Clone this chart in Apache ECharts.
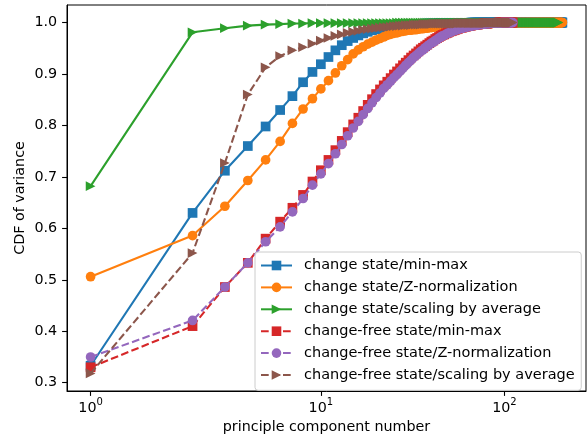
<!DOCTYPE html>
<html><head><meta charset="utf-8">
<script src="https://cdn.jsdelivr.net/npm/echarts@6/dist/echarts.min.js"></script>
<style>html,body{margin:0;padding:0;background:#fff}#c{width:587px;height:439px}</style>
</head><body><div id="c"></div>
<script>
// ---- data ----
const seriesNames = [
  'change state/min-max',
  'change state/Z-normalization',
  'change state/scaling by average',
  'change-free state/min-max',
  'change-free state/Z-normalization',
  'change-free state/scaling by average'
];
// values for principal components 1..N
const changeMinMax = [
0.333,0.630,0.712,0.760,0.798,0.830,0.857,0.884,0.904,0.919,
0.933,0.946,0.956,0.964,0.970,0.975,0.979,0.982,0.985,0.987,
0.989,0.990,0.991,0.992,0.993,0.994,0.994,0.995,0.995,0.996,
0.996,0.996,0.997,0.997,0.997,0.997,0.998,0.998,0.998,0.998,
0.998,0.998,0.998,0.999,0.999,0.999,0.999,0.999,0.999,0.999,
0.999,0.999,0.999,0.999,0.999,0.999,0.999,0.999,0.999,0.999,
0.999,0.999,0.999,0.999,0.999,1,1,1,1,1,
1,1,1,1,1,1,1,1,1,1, 1,1,1,1,1,1,1,1,1,1,
1,1,1,1,1,1,1,1,1,1, 1,1,1,1,1,1,1,1,1,1,
1,1,1,1,1,1,1,1,1,1, 1,1,1,1,1,1,1,1,1,1,
1,1,1,1,1,1,1,1,1,1, 1,1,1,1,1,1,1,1,1,1,
1,1,1,1,1,1,1,1,1,1, 1,1,1,1,1,1,1,1,1,1,
1,1,1,1,1,1,1,1,1,1, 1,1,1,1,1,1,1,1,1,1,
1,1,1,1,1,1,1,1,1,1, 1,1,1,1,1,1,1
];
const changeZNorm = [
0.506,0.586,0.643,0.693,0.733,0.769,0.804,0.832,0.852,0.871,
0.887,0.902,0.916,0.928,0.939,0.947,0.953,0.958,0.962,0.966,
0.969,0.972,0.975,0.977,0.979,0.980,0.982,0.983,0.984,0.985,
0.985,0.986,0.986,0.987,0.988,0.988,0.989,0.989,0.990,0.990,
0.991,0.991,0.991,0.992,0.992,0.992,0.992,0.993,0.993,0.993,
0.993,0.994,0.994,0.994,0.994,0.995,0.995,0.995,0.995,0.995,
0.996,0.996,0.996,0.996,0.996,0.996,0.997,0.997,0.997,0.997,
0.997,0.997,0.998,0.998,0.998,0.998,0.998,0.998,0.998,0.998,
0.998,0.998,0.998,0.998,0.998,0.999,0.999,0.999,0.999,0.999,
0.999,0.999,0.999,0.999,0.999,0.999,0.999,0.999,0.999,0.999,
0.999,0.999,0.999,0.999,0.999,0.999,0.999,0.999,0.999,0.999,
1,1,1,1,1,1,1,1,1,1, 1,1,1,1,1,1,1,1,1,1,
1,1,1,1,1,1,1,1,1,1, 1,1,1,1,1,1,1,1,1,1,
1,1,1,1,1,1,1,1,1,1, 1,1,1,1,1,1,1,1,1,1,
1,1,1,1,1,1,1,1,1,1, 1,1,1,1,1,1,1,1,1,1,
1,1,1,1,1,1,1,1,1,1, 1,1,1,1,1,1,1
];
const changeScaleAvg = [
0.682,0.981,0.989,0.994,0.996,0.997,0.998,0.998,0.999,0.999,
0.999,0.999,0.999,0.999,0.999,0.999,0.999,0.999,0.999,0.999,
0.999,0.999,0.999,0.999,0.999,1,1,1,1,1,
1,1,1,1,1,1,1,1,1,1, 1,1,1,1,1,1,1,1,1,1,
1,1,1,1,1,1,1,1,1,1, 1,1,1,1,1,1,1,1,1,1,
1,1,1,1,1,1,1,1,1,1, 1,1,1,1,1,1,1,1,1,1,
1,1,1,1,1,1,1,1,1,1, 1,1,1,1,1,1,1,1,1,1,
1,1,1,1,1,1,1,1,1,1, 1,1,1,1,1,1,1,1,1,1,
1,1,1,1,1,1,1,1,1,1, 1,1,1,1,1,1,1,1,1,1,
1,1,1,1,1,1,1,1,1,1, 1,1,1,1,1,1,1,1,1,1,
1,1,1,1,1,1,1,1,1,1, 1,1,1,1,1,1,1,1,1,1,
1,1,1,1,1,1,1
];
const freeMinMax = [
0.330,0.410,0.486,0.533,0.580,0.613,0.640,0.665,0.691,0.713,
0.733,0.752,0.770,0.787,0.802,0.815,0.828,0.840,0.851,0.861,
0.870,0.878,0.885,0.892,0.899,0.905,0.911,0.917,0.922,0.927,
0.932,0.936,0.940,0.944,0.948,0.951,0.954,0.957,0.960,0.963,
0.965,0.968,0.970,0.972,0.974,0.976,0.977,0.979,0.980,0.982,
0.983,0.984,0.985,0.986,0.987,0.988,0.989,0.990,0.990,0.991,
0.992,0.992,0.993,0.993,0.994,0.994,0.995,0.995,0.995,0.996,
0.996,0.996,0.997,0.997,0.997,0.997,0.998,0.998,0.998,0.998,
0.998,0.999,0.999,0.999,0.999,0.999,0.999,0.999,0.999,0.999,
0.999,0.999,1,1,1,1,1,1,1,1,
1,1,1,1,1,1,1,1,1,1,
1
];
const freeZNorm = [
0.350,0.421,0.486,0.533,0.574,0.603,0.632,0.658,0.684,0.706,
0.726,0.745,0.763,0.780,0.795,0.808,0.821,0.833,0.844,0.854,
0.863,0.872,0.879,0.886,0.893,0.899,0.905,0.911,0.917,0.922,
0.927,0.932,0.936,0.940,0.944,0.947,0.951,0.954,0.957,0.960,
0.962,0.965,0.967,0.970,0.972,0.974,0.975,0.977,0.979,0.980,
0.982,0.983,0.984,0.985,0.986,0.987,0.988,0.989,0.989,0.990,
0.991,0.991,0.992,0.992,0.993,0.993,0.994,0.994,0.995,0.995,
0.995,0.996,0.996,0.996,0.997,0.997,0.997,0.997,0.998,0.998,
0.998,0.998,0.998,0.999,0.999,0.999,0.999,0.999,0.999,0.999,
0.999,0.999,0.999,0.999,0.999,1,1,1,1,1,
1,1,1,1,1,1,1,1,1,1,
1
];
const freeScaleAvg = [
0.318,0.552,0.727,0.860,0.913,0.935,0.946,0.952,0.959,0.965,
0.970,0.974,0.977,0.980,0.982,0.984,0.986,0.987,0.988,0.989,
0.990,0.991,0.991,0.992,0.993,0.993,0.994,0.994,0.995,0.995,
0.995,0.996,0.996,0.996,0.996,0.997,0.997,0.997,0.997,0.997,
0.998,0.998,0.998,0.998,0.998,0.998,0.998,0.998,0.998,0.998,
0.998,0.998,0.998,0.998,0.998,0.999,0.999,0.999,0.999,0.999,
0.999,0.999,0.999,0.999,0.999,0.999,0.999,0.999,0.999,0.999,
0.999,0.999,0.999,0.999,0.999,0.999,0.999,0.999,0.999,0.999,
1,1,1,1,1,1,1,1,1,1,
1,1,1,1,1,1,1,1,1,1,
1,1,1,1,1,1,1,1,1,1,
1
];
const xTickValues = [1, 10, 100];
const xTickBases = ['10', '10', '10'];
const xTickExponents = ['0', '1', '2'];
const yTickValues = [0.3, 0.4, 0.5, 0.6, 0.7, 0.8, 0.9, 1.0];
const xAxisTitle = 'principle component number';
const yAxisTitle = 'CDF of variance';

// ---- symmetric-log x scale (linthresh 2, base 10, linscale 1) ----
const LINTHRESH = 2, BASE = 10, LINSCALE = 1;
const linscaleAdj = LINSCALE / (1 - 1 / BASE);
function symlog(x) {
  const a = Math.abs(x);
  if (a <= LINTHRESH) return x * linscaleAdj;
  return Math.sign(x) * LINTHRESH * (linscaleAdj + Math.log(a / LINTHRESH) / Math.log(BASE));
}

const FONT = 'DejaVu Sans';
const FS = 14.3;
const styles = [
  { values: changeMinMax, color: '#1f77b4', symbol: 'rect', dashed: false },
  { values: changeZNorm, color: '#ff7f0e', symbol: 'circle', dashed: false },
  { values: changeScaleAvg, color: '#2ca02c', symbol: 'triangle', dashed: false },
  { values: freeMinMax, color: '#d62728', symbol: 'rect', dashed: true },
  { values: freeZNorm, color: '#9467bd', symbol: 'circle', dashed: true },
  { values: freeScaleAvg, color: '#8c564b', symbol: 'triangle', dashed: true }
];

let tAll = [], vAll = [];
styles.forEach(s => s.values.forEach((v, i) => { tAll.push(symlog(i + 1)); vAll.push(v); }));
const tMin = Math.min(...tAll), tMax = Math.max(...tAll);
const vMin = Math.min(...vAll), vMax = Math.max(...vAll);
const xMin = tMin - 0.05 * (tMax - tMin), xMax = tMax + 0.05 * (tMax - tMin);
const yMin = vMin - 0.05 * (vMax - vMin), yMax = vMax + 0.05 * (vMax - vMin);
const xTickPos = xTickValues.map(symlog);

const chart = echarts.init(document.getElementById('c'), null, { renderer: 'canvas' });
chart.setOption({
  animation: false,
  backgroundColor: '#fff',
  grid: { left: 67, right: 1, top: 5, bottom: 47, show: true, borderColor: '#000', borderWidth: 1, backgroundColor: 'transparent' },
  xAxis: {
    type: 'value', min: xMin, max: xMax,
    name: xAxisTitle, nameLocation: 'middle', nameGap: 29,
    nameTextStyle: { fontFamily: FONT, fontSize: FS, color: '#000' },
    axisLine: { show: true, onZero: false, lineStyle: { color: '#000', width: 1 } },
    axisTick: { show: true, customValues: xTickPos, length: 4.9, lineStyle: { color: '#000', width: 1.1 } },
    axisLabel: {
      customValues: xTickPos, margin: 6, color: '#000',
      formatter: function (v) {
        const j = xTickPos.findIndex(p => Math.abs(p - v) < 1e-6);
        if (j < 0) return '';
        return '{b|' + xTickBases[j] + '}{s|' + xTickExponents[j] + '}';
      },
      rich: {
        b: { fontFamily: FONT, fontSize: FS, color: '#000', lineHeight: 18, verticalAlign: 'bottom' },
        s: { fontFamily: FONT, fontSize: 10, color: '#000', lineHeight: 9, verticalAlign: 'top' }
      }
    },
    splitLine: { show: false }
  },
  yAxis: {
    type: 'value', min: yMin, max: yMax,
    name: yAxisTitle, nameLocation: 'middle', nameGap: 40, nameRotate: 90, nameMoveOverlap: false,
    nameTextStyle: { fontFamily: FONT, fontSize: FS, color: '#000' },
    axisLine: { show: true, onZero: false, lineStyle: { color: '#000', width: 1 } },
    axisTick: { show: true, customValues: yTickValues, length: 4.9, lineStyle: { color: '#000', width: 1.1 } },
    axisLabel: { customValues: yTickValues, margin: 9.8, color: '#000', fontFamily: FONT, fontSize: FS, formatter: v => v.toFixed(1) },
    splitLine: { show: false }
  },
  legend: {
    orient: 'vertical', left: 255, top: 252, z: 100, data: seriesNames, selectedMode: false,
    itemWidth: 31, itemHeight: 12, itemGap: 6.9, padding: [6, 6.6, 7.8, 5],
    backgroundColor: 'rgba(255,255,255,0.8)', borderColor: '#cccccc', borderWidth: 1, borderRadius: 3,
    textStyle: { fontFamily: FONT, fontSize: 14.5, color: '#000', lineHeight: 14, padding: [0, 0, 0, 7] },
    lineStyle: { width: 2 }
  },
  series: styles.map((s, k) => ({
    type: 'line', name: seriesNames[k], z: 2 + k,
    data: s.values.map((v, i) => [symlog(i + 1), v]),
    symbol: s.symbol, symbolSize: 9.7, symbolRotate: s.symbol === 'triangle' ? -90 : 0,
    showSymbol: true, showAllSymbol: true, color: s.color,
    lineStyle: { color: s.color, width: 2.08, type: s.dashed ? [7.7, 3.3] : 'solid' },
    itemStyle: { color: s.color },
    emphasis: { disabled: true }
  }))
});
</script>
</body></html>
